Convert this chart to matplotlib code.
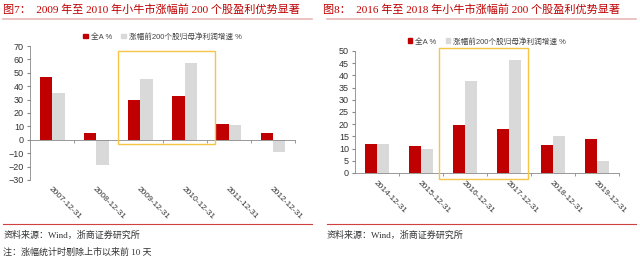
import matplotlib
matplotlib.use("Agg")
import matplotlib.pyplot as plt
from matplotlib.patches import Rectangle
from matplotlib.lines import Line2D

plt.rcParams['font.family'] = ['Liberation Sans', 'Noto Sans CJK SC', 'DejaVu Sans']
SERIF = ['Liberation Serif', 'Noto Sans CJK SC', 'DejaVu Serif']

RED = '#C00000'
GREY = '#D9D9D9'
YELLOW = '#F6C544'

# 图7
dates_l = ["2007-12-31", "2008-12-31", "2009-12-31", "2010-12-31", "2011-12-31", "2012-12-31"]
all_a_l = [47, 5, 30, 33, 12, 5]
top200_l = [35, -18.5, 45.5, 57.5, 11, -9.5]

# 图8
dates_r = ["2014-12-31", "2015-12-31", "2016-12-31", "2017-12-31", "2018-12-31", "2019-12-31"]
all_a_r = [12, 11.2, 19.5, 18, 11.5, 14]
top200_r = [12, 9.8, 37.5, 46.2, 15.2, 4.8]

labels = ["全A %", "涨幅前200个股归母净利润增速 %"]

fig = plt.figure(figsize=(6.4, 2.6), dpi=100)


def draw_panel(rect, dates, a, b, ylim, step, box, label_pad):
    ax = fig.add_axes(rect)
    for s in ['top', 'right']:
        ax.spines[s].set_visible(False)
    ax.spines['bottom'].set_position(('data', 0))
    for s in ['left', 'bottom']:
        ax.spines[s].set_color('#888888')
        ax.spines[s].set_linewidth(0.6)

    x = list(range(len(dates)))
    w = 0.28
    ax.bar([i - w / 2 for i in x], a, width=w, color=RED, label=labels[0])
    ax.bar([i + w / 2 for i in x], b, width=w, color=GREY, label=labels[1])
    ax.set_xlim(-0.5, len(dates) - 0.5)
    ax.set_ylim(*ylim)
    ax.set_yticks(range(ylim[0], ylim[1] + 1, step))
    ax.set_xticks(x)
    ax.set_xticks([i + 0.5 for i in x], minor=True)
    ax.tick_params(axis='x', which='major', length=0, pad=label_pad)
    ax.tick_params(axis='x', which='minor', length=2.5, direction='out',
                   color='#888888')
    ax.tick_params(axis='y', labelsize=6.5, length=2.5, color='#888888',
                   labelcolor='#333333', pad=2)
    ax.set_xticklabels(dates, rotation=-45, ha='left', va='top',
                       rotation_mode='anchor', fontsize=6, color='#333333')

    ax.add_patch(Rectangle((box[0], box[2]), box[1] - box[0], box[3] - box[2],
                           fill=False, edgecolor=YELLOW, linewidth=1.0,
                           clip_on=False, zorder=5))
    handles = [Rectangle((0, 0), 1, 1, color=RED), Rectangle((0, 0), 1, 1, color=GREY)]
    ax.legend(handles, labels, loc='lower center', bbox_to_anchor=(0.5, 1.0),
              ncol=2, frameon=False, fontsize=5.5, handlelength=0.6,
              handleheight=0.6, columnspacing=1.2, handletextpad=0.4,
              labelcolor='#444444', borderaxespad=0.3)
    return ax


axl = draw_panel([0.047, 0.308, 0.414, 0.515], dates_l, all_a_l, top200_l,
                 (-30, 70), 10, (1.48, 3.68, -3, 66), 33)
axr = draw_panel([0.555, 0.335, 0.412, 0.469], dates_r, all_a_r, top200_r,
                 (0, 50), 5, (1.41, 3.43, -2.5, 51.2), 5)

fig.text(0.005, 0.965, "图7：  2009 年至 2010 年小牛市涨幅前 200 个股盈利优势显著",
         fontsize=8, color=RED, family=SERIF, va='center')
fig.text(0.505, 0.965, "图8：  2016 年至 2018 年小牛市涨幅前 200 个股盈利优势显著",
         fontsize=8, color=RED, family=SERIF, va='center')

for x0, x1 in [(0.005, 0.488), (0.511, 0.994)]:
    fig.add_artist(Line2D([x0, x1], [0.927, 0.927], color='#E8B8B8', linewidth=1.2))
    fig.add_artist(Line2D([x0, x1], [0.138, 0.138], color='#D04040', linewidth=0.8))

fig.text(0.005, 0.095, "资料来源：Wind，浙商证券研究所", fontsize=6.5,
         color='#333333', family=SERIF, va='center')
fig.text(0.511, 0.095, "资料来源：Wind，浙商证券研究所", fontsize=6.5,
         color='#333333', family=SERIF, va='center')
fig.text(0.005, 0.03, "注：涨幅统计时剔除上市以来前 10 天", fontsize=6.5,
         color='#333333', family=SERIF, va='center')

fig.savefig("out.png", dpi=100, facecolor='white')
